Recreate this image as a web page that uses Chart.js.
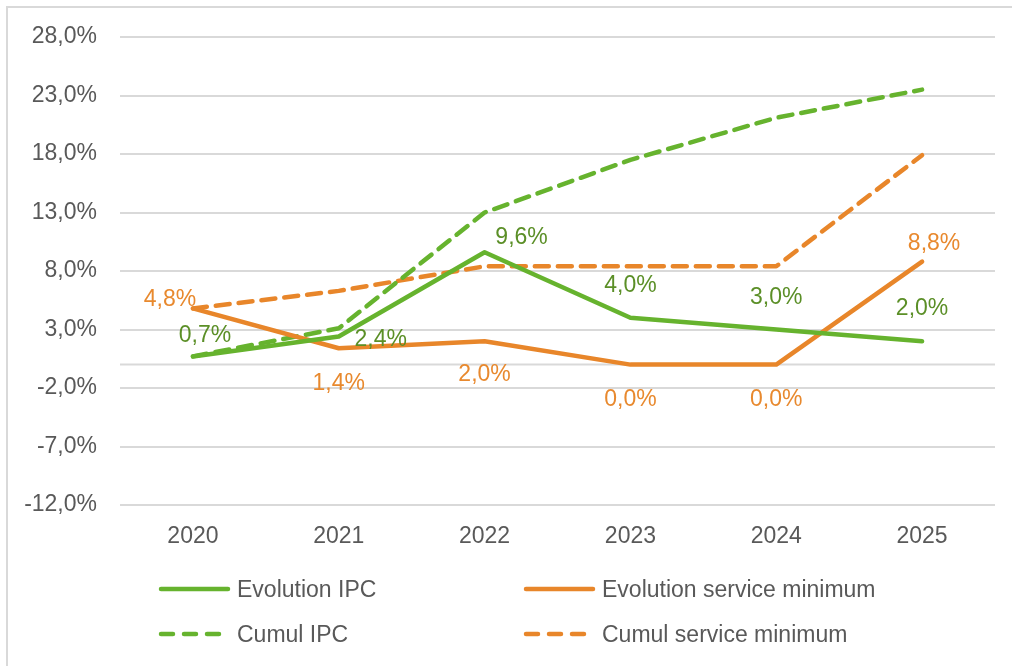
<!DOCTYPE html>
<html>
<head>
<meta charset="utf-8">
<script src="https://cdn.jsdelivr.net/npm/chart.js@4"></script>
<style>
  html, body { margin: 0; padding: 0; background: #fff; }
  #wrap { position: relative; width: 1012px; height: 666px; overflow: hidden; }
  #frame { position: absolute; left: 6px; top: 6px; width: 1020px; height: 680px; border: 2px solid #d9d9d9; box-sizing: border-box; }
  canvas { position: absolute; left: 0; top: 0; }
  .leg { position: absolute; font-family: "Liberation Sans", Arial, sans-serif; font-size: 23px; color: #595959; line-height: 24px; white-space: nowrap; }
  .leg svg { position: absolute; top: 6px; }
  .leg span { position: absolute; top: 0; }
</style>
</head>
<body>
<div id="wrap">
  <div id="frame"></div>
  <canvas id="graf" width="1012" height="666"></canvas>
  <div id="legend"></div>
</div>
<script>
var years = ['2020', '2021', '2022', '2023', '2024', '2025'];
var evol_ipc = [0.7, 2.4, 9.6, 4.0, 3.0, 2.0];
var evol_service = [4.8, 1.4, 2.0, 0.0, 0.0, 8.8];
var cumul_ipc = [0.7, 3.1, 13.0, 17.5, 21.1, 23.5];
var cumul_service = [4.8, 6.3, 8.4, 8.4, 8.4, 17.9];

var green = '#66b32e';
var green_text = '#5b8f27';
var orange = '#e8862a';
var orange_text = '#e8892e';

function fmt(v) {
    return v.toFixed(1).replace('.', ',') + '%';
}

// label offsets from the point (px), like the manual placement in the original
var ipc_label_pos = [[12, -21], [42, 3], [37, -15], [0, -32], [0, -32], [0, -33]];
var service_label_pos = [[-23, -9], [0, 35], [0, 33], [0, 35], [0, 35], [12, -18]];

var pointLabels = {
    id: 'pointLabels',
    afterDatasetsDraw: function(chart) {
        var ctx = chart.ctx;
        chart.data.datasets.forEach(function(ds, i) {
            if (!ds.labelPos) return;
            var meta = chart.getDatasetMeta(i);
            ctx.save();
            ctx.font = '23px "Liberation Sans", Arial, sans-serif';
            ctx.fillStyle = ds.labelColor;
            ctx.textAlign = 'center';
            ctx.textBaseline = 'middle';
            meta.data.forEach(function(pt, j) {
                var off = ds.labelPos[j];
                ctx.fillText(fmt(ds.data[j]), pt.x + off[0], pt.y + off[1]);
            });
            ctx.restore();
        });
    }
};

// horizontal axis line at 0 like Excel
var zeroLine = {
    id: 'zeroLine',
    beforeDatasetsDraw: function(chart) {
        var y = chart.scales.y.getPixelForValue(0);
        var ctx = chart.ctx;
        ctx.save();
        ctx.strokeStyle = '#d9d9d9';
        ctx.lineWidth = 2;
        ctx.beginPath();
        ctx.moveTo(chart.chartArea.left, y);
        ctx.lineTo(chart.chartArea.right, y);
        ctx.stroke();
        ctx.restore();
    }
};

Chart.defaults.font.family = '"Liberation Sans", Arial, sans-serif';
Chart.defaults.font.size = 23;
Chart.defaults.color = '#595959';

var graf = new Chart(document.getElementById('graf'), {
    type: 'line',
    data: {
        labels: years,
        datasets: [{
            label: 'Evolution IPC',
            data: evol_ipc,
            borderColor: green,
            borderWidth: 4.5,
            labelPos: ipc_label_pos,
            labelColor: green_text
        }, {
            label: 'Evolution service minimum',
            data: evol_service,
            borderColor: orange,
            borderWidth: 4.5,
            labelPos: service_label_pos,
            labelColor: orange_text
        }, {
            label: 'Cumul IPC',
            data: cumul_ipc,
            borderColor: green,
            borderWidth: 4.5,
            borderDash: [14, 9]
        }, {
            label: 'Cumul service minimum',
            data: cumul_service,
            borderColor: orange,
            borderWidth: 4.5,
            borderDash: [14, 9]
        }]
    },
    options: {
        responsive: false,
        animation: false,
        layout: { padding: { left: 0, right: 17, top: 37, bottom: 0 } },
        elements: {
            point: { radius: 0 },
            line: { tension: 0, borderCapStyle: 'round', borderJoinStyle: 'round', fill: false }
        },
        plugins: {
            legend: { display: false },
            tooltip: { enabled: false }
        },
        scales: {
            x: {
                offset: true,
                grid: { display: false, drawTicks: false },
                border: { display: false },
                ticks: { padding: 18, color: '#595959' },
                afterFit: function(s) { s.height = 161; }
            },
            y: {
                min: -12,
                max: 28,
                ticks: {
                    stepSize: 5,
                    padding: 23,
                    color: '#595959',
                    callback: function(v) { return fmt(v); }
                },
                grid: { color: '#d9d9d9', lineWidth: 2, drawTicks: false },
                border: { display: false },
                afterFit: function(s) { s.width = 120; }
            }
        }
    },
    plugins: [zeroLine, pointLabels]
});

// legend in two columns, as in the original
var legendItems = [
    { text: 'Evolution IPC', color: green, dash: false, x: 158, y: 577 },
    { text: 'Evolution service minimum', color: orange, dash: false, x: 523, y: 577 },
    { text: 'Cumul IPC', color: green, dash: true, x: 158, y: 622 },
    { text: 'Cumul service minimum', color: orange, dash: true, x: 523, y: 622 }
];
var legendHtml = '';
legendItems.forEach(function(it) {
    legendHtml += '<div class="leg" style="left:' + it.x + 'px;top:' + it.y + 'px">' +
        '<svg width="74" height="12"><line x1="3" y1="6" x2="70" y2="6" stroke="' + it.color +
        '" stroke-width="4.5" stroke-linecap="round"' + (it.dash ? ' stroke-dasharray="12 11"' : '') +
        '/></svg><span style="left:79px">' + it.text + '</span></div>';
});
document.getElementById('legend').innerHTML = legendHtml;
</script>
</body>
</html>
